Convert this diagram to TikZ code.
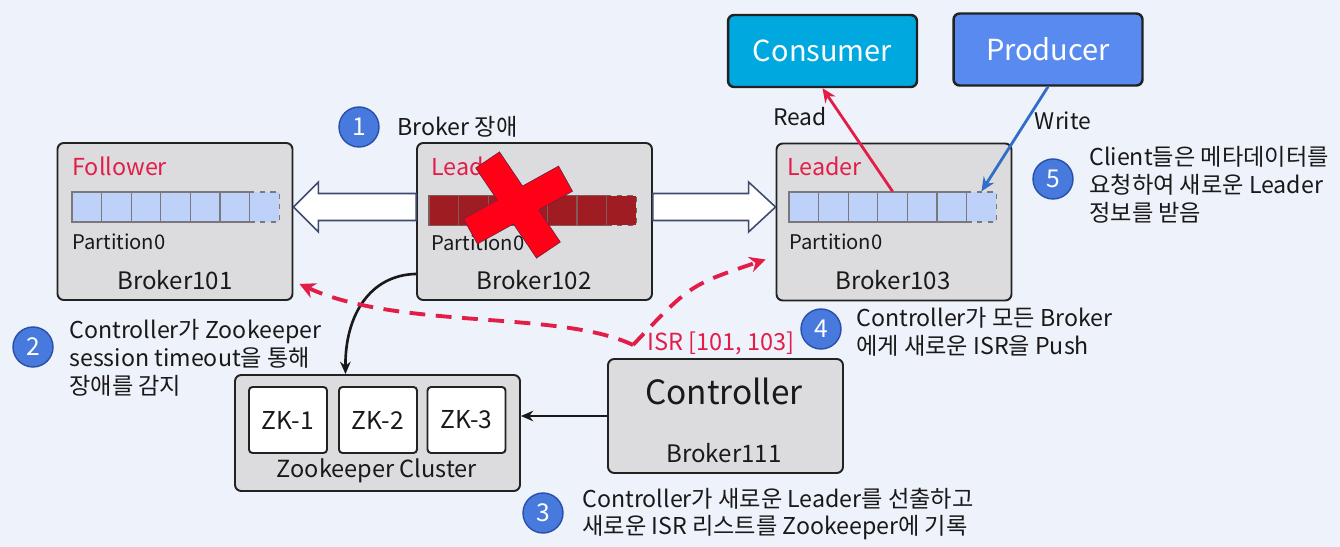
\documentclass[tikz,border=0pt]{standalone}
\usepackage{fontspec}
\setmainfont{Noto Sans CJK KR}
\usetikzlibrary{arrows.meta,calc}
\definecolor{bgblue}{RGB}{238,242,250}
\definecolor{boxgray}{RGB}{220,220,222}
\definecolor{boxline}{RGB}{34,34,34}
\definecolor{ink}{RGB}{25,25,25}
\definecolor{crimson}{RGB}{226,30,72}
\definecolor{cellblue}{RGB}{190,209,248}
\definecolor{cellline}{RGB}{120,120,125}
\definecolor{deadred}{RGB}{160,28,35}
\definecolor{deadline}{RGB}{130,90,90}
\definecolor{xred}{RGB}{255,0,22}
\definecolor{xedge}{RGB}{90,40,70}
\definecolor{consfill}{RGB}{0,168,224}
\definecolor{prodfill}{RGB}{88,138,240}
\definecolor{badgefill}{RGB}{72,122,222}
\definecolor{badgeedge}{RGB}{40,80,170}
\definecolor{writeblue}{RGB}{50,110,200}
\definecolor{arrowedge}{RGB}{60,75,110}

\begin{document}
\begin{tikzpicture}[x=0.02cm,y=-0.02cm,
	box/.style={draw=boxline,fill=boxgray,rounded corners=3.5pt,line width=1.1pt,minimum width=4.7cm,minimum height=3.14cm,inner sep=0pt},
	cell/.style={draw=cellline,fill=cellblue,line width=0.6pt,minimum width=0.592cm,minimum height=0.6cm,inner sep=0pt},
	deadcell/.style={cell,draw=deadline,fill=deadred},
	zk/.style={draw=boxline,fill=white,rounded corners=2pt,line width=1.1pt,minimum width=1.56cm,minimum height=1.32cm,inner sep=0pt,text=ink,font=\fontsize{14}{16}\selectfont},
	client/.style={draw=boxline,rounded corners=3.5pt,line width=1.4pt,minimum width=3.78cm,minimum height=1.44cm,inner sep=0pt,text=white,font=\fontsize{16.5}{18}\selectfont},
	role/.style={inner sep=0pt,text=crimson,font=\fontsize{13.3}{15}\selectfont},
	part/.style={inner sep=0pt,text=ink,font=\fontsize{11.5}{13}\selectfont},
	bname/.style={inner sep=0pt,text=ink,font=\fontsize{13.7}{15}\selectfont},
	note/.style={inner sep=0pt,text=ink,align=left,font=\fontsize{13.2}{15.8}\selectfont},
	badge/.style={circle,draw=badgeedge,fill=badgefill,line width=0.8pt,minimum size=0.8cm,inner sep=0pt,text=white,font=\fontsize{14}{16}\selectfont},
	hollow/.style={draw=arrowedge,fill=white,line width=0.9pt,line join=miter},
	isrline/.style={draw=crimson,line width=2.2pt,dash pattern=on 9pt off 6pt,-{Stealth[length=9pt,width=9pt]}},
	thin/.style={draw=ink,line width=1.5pt,-{Stealth[length=7pt,width=6pt]}}]
	\useasboundingbox (0,0) rectangle (1340,547);
	\fill[bgblue] (0,0) rectangle (1340,547);
	\node[box] (b101) at (175,221.5) {};
	\node[box] (b102) at (534.5,221.5) {};
	\node[box] (b103) at (894,222) {};
	\foreach \p/\x/\y/\s in {a/72/207/cell,b/429/210.5/deadcell,c/789/207/cell} {
		\foreach \i in {1,...,6}
			\node[\s] (\p\i) at ({\x+29.6*(\i-0.5)},\y) {};
		\node[\s,dashed] (\p7) at ({\x+29.6*6.5},\y) {};
	}
	\node[role,anchor=west] (r101) at (72,166) {Follower};
	\node[role,anchor=west] (r102) at (431,166) {Leader};
	\node[role,anchor=west] (r103) at (787,166) {Leader};
	\node[part,anchor=west] (p101) at (72,242) {Partition0};
	\node[part,anchor=west] (p102) at (431,243) {Partition0};
	\node[part,anchor=west] (p103) at (789,242) {Partition0};
	\node[bname] (n101) at (175,280) {Broker101};
	\node[bname] (n102) at (534,280) {Broker102};
	\node[bname] (n103) at (893,280) {Broker103};
	\draw[hollow] (b101.east |- a1.center) -- ++(25,-25) -- ++(0,11.5) -- ($(b102.west |- a1.center)+(0,-13.5)$) -- ++(0,27) -- ($(b101.east |- a1.center)+(25,13.5)$) -- ++(0,11.5) -- cycle;
	\draw[hollow] (b103.west |- c1.center) -- ++(-27,-25) -- ++(0,11.5) -- ($(b102.east |- c1.center)+(0,-13.5)$) -- ++(0,27) -- ($(b103.west |- c1.center)+(-27,13.5)$) -- ++(0,11.5) -- cycle;
	\foreach \a in {-56,29}
		\draw[xedge,fill=xred,line width=0.8pt,rotate around={\a:(518,205)}] (464,191) rectangle (572,219);
	\foreach \a in {-56,29}
		\fill[xred,rotate around={\a:(518,205)}] (464,191) rectangle (572,219);
	\node[client,fill=consfill] (cons) at (822.5,51) {Consumer};
	\node[client,fill=prodfill] (prod) at (1048,49.5) {Producer};
	\draw[crimson,line width=1.6pt,-{Stealth[length=8pt,width=7pt]}] (c4.north) -- (cons.south);
	\draw[writeblue,line width=1.6pt,-{Stealth[length=8pt,width=7pt]}] (prod.south) -- (c7.north);
	\node[bname,font=\fontsize{13}{15}\selectfont] (rd) at (800,117) {Read};
	\node[bname,font=\fontsize{13}{15}\selectfont] (wr) at (1063,121) {Write};
	\node[box,minimum width=5.7cm,minimum height=2.32cm] (zkc) at (377.5,433) {};
	\node[zk] (zk1) at (288,420) {ZK-1};
	\node[zk] (zk2) at (378,420) {ZK-2};
	\node[zk] (zk3) at (466.5,420) {ZK-3};
	\node[bname,font=\fontsize{13.4}{15}\selectfont] (zkt) at (377,471) {Zookeeper Cluster};
	\node[box,minimum height=2.28cm] (ctrl) at (725.5,416) {};
	\node[bname,font=\fontsize{19}{21}\selectfont] (ctrlt) at (724,391) {Controller};
	\node[bname] (b111) at (724,453) {Broker111};
	\draw[thin] (ctrl.west) -- (ctrl.west -| zkc.east);
	\draw[thin] ($(b102.south west)+(0,-27)$) .. controls (370,275) and (345,315) .. ($(zkc.north)+(-32,0)$);
	\node[role,anchor=west,font=\fontsize{13.4}{15}\selectfont] (isr) at (647,343) {ISR [101, 103]};
	\coordinate (push) at (633,345);
	\draw[isrline] (push) .. controls (560,310) and (400,330) .. ($(b101.south east)+(6,-17)$);
	\draw[isrline] (push) .. controls (690,285) .. ($(b103.south west)+(-10,-42)$);
	\node[badge] (n1) at (359,127) {1};
	\node[note,anchor=west] (s1) at (397,127) {Broker 장애};
	\node[badge] (n2) at (33,347) {2};
	\node[note,anchor=west] (s2) at (69,358) {Controller가 Zookeeper\\session timeout을 통해\\장애를 감지};
	\node[badge] (n3) at (543,513) {3};
	\node[note,anchor=west] (s3) at (582,514) {Controller가 새로운 Leader를 선출하고\\새로운 ISR 리스트를 Zookeeper에 기록};
	\node[badge] (n4) at (821,329) {4};
	\node[note,anchor=west] (s4) at (856,332) {Controller가 모든 Broker\\에게 새로운 ISR을 Push};
	\node[badge] (n5) at (1053,179) {5};
	\node[note,anchor=west] (s5) at (1089,185) {Client들은 메타데이터를\\요청하여 새로운 Leader\\정보를 받음};
\end{tikzpicture}
\end{document}
